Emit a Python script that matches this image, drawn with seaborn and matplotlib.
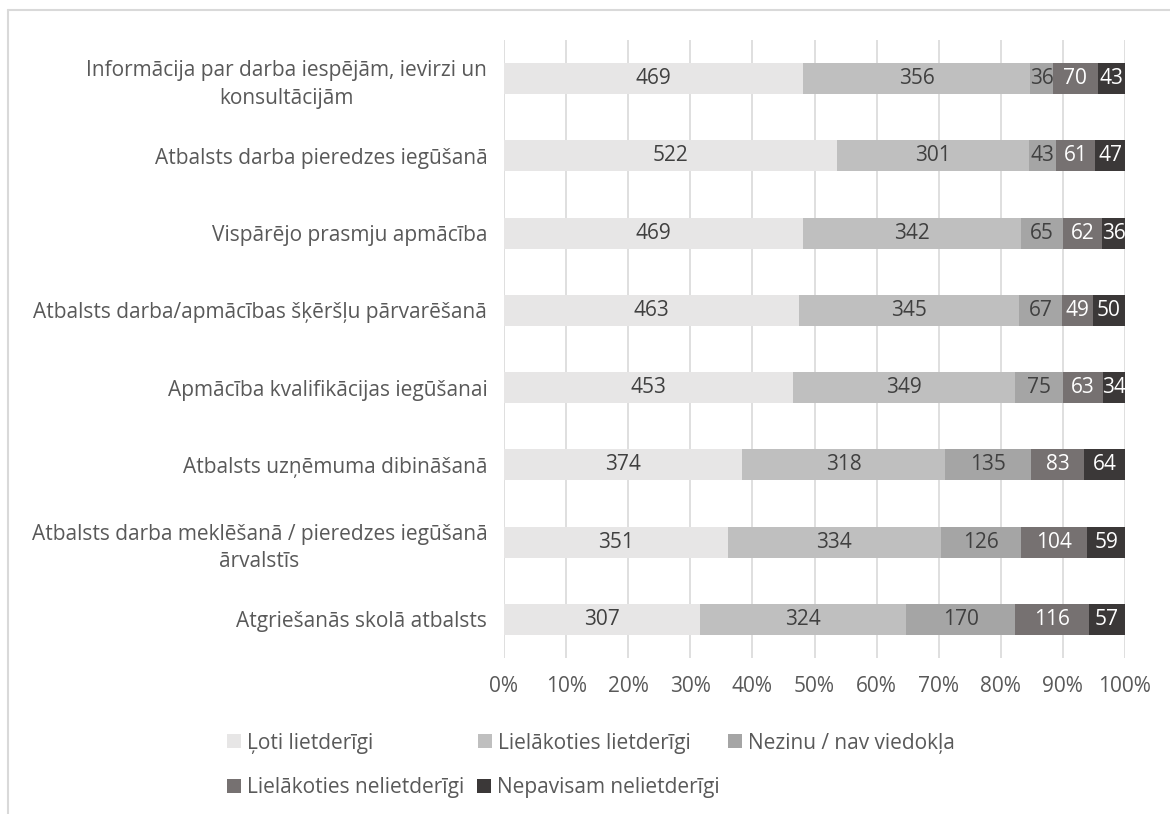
import matplotlib
matplotlib.use("Agg")
import matplotlib.pyplot as plt
from matplotlib.patches import Patch
from matplotlib.lines import Line2D
from matplotlib.ticker import PercentFormatter
import seaborn as sns
import pandas as pd
import numpy as np

categories = [
    "Informācija par darba iespējām, ievirzi un\nkonsultācijām",
    "Atbalsts darba pieredzes iegūšanā",
    "Vispārējo prasmju apmācība",
    "Atbalsts darba/apmācības šķēršļu pārvarēšanā",
    "Apmācība kvalifikācijas iegūšanai",
    "Atbalsts uzņēmuma dibināšanā",
    "Atbalsts darba meklēšanā / pieredzes iegūšanā\nārvalstīs",
    "Atgriešanās skolā atbalsts",
]
series_names = [
    "Ļoti lietderīgi",
    "Lielākoties lietderīgi",
    "Nezinu / nav viedokļa",
    "Lielākoties nelietderīgi",
    "Nepavisam nelietderīgi",
]
very_useful = [469, 522, 469, 463, 453, 374, 351, 307]
mostly_useful = [356, 301, 342, 345, 349, 318, 334, 324]
dont_know = [36, 43, 65, 67, 75, 135, 126, 170]
mostly_useless = [70, 61, 62, 49, 63, 83, 104, 116]
not_useful = [43, 47, 36, 50, 34, 64, 59, 57]

colors = ["#E7E6E6", "#BFBFBF", "#A5A5A5", "#767171", "#3B3838"]
label_colors = ["#404040", "#404040", "#404040", "white", "white"]

sns.set_theme(style="white")
plt.rcParams["font.family"] = ["Open Sans", "DejaVu Sans"]

FS = 15

values = np.array([very_useful, mostly_useful, dont_know, mostly_useless, not_useful], dtype=float)
totals = values.sum(axis=0)
shares = values / totals
cum = np.cumsum(shares, axis=0)

W, H = 1170, 814
fig = plt.figure(figsize=(W / 100, H / 100), dpi=100)
ax = fig.add_axes([504 / W, 1 - 658 / H, (1125 - 504) / W, (658 - 40) / H])

# stacked bars: draw cumulative totals from the longest to the shortest
for i in reversed(range(len(series_names))):
    df = pd.DataFrame({"category": categories, "cum": cum[i]})
    sns.barplot(data=df, x="cum", y="category", orient="h", color=colors[i],
                saturation=1, width=0.4, linewidth=0, errorbar=None, ax=ax,
                zorder=2)

for i in range(len(series_names)):
    start = cum[i] - shares[i]
    for j, cat in enumerate(categories):
        ax.text(start[j] + shares[i][j] / 2, j, f"{int(values[i][j])}",
                ha="center", va="center", color=label_colors[i], fontsize=FS,
                zorder=3)

ax.set_xlim(0, 1)
ax.set_ylim(len(categories) - 0.5, -0.5)
ax.set_xticks(np.linspace(0, 1, 11))
ax.xaxis.set_major_formatter(PercentFormatter(1.0, decimals=0))
ax.set_xlabel("")
ax.set_ylabel("")
ax.grid(axis="x", color="#D9D9D9", linewidth=1.2, zorder=0)
ax.set_axisbelow(True)
for s in ax.spines.values():
    s.set_visible(False)
ax.tick_params(axis="x", length=0, pad=13, labelsize=FS, labelcolor="#595959")
ax.tick_params(axis="y", length=0, pad=12, labelsize=FS, labelcolor="#595959")
for lbl in ax.get_yticklabels():
    lbl.set_multialignment("center")
    lbl.set_linespacing(1.4)

# legend: 3-column grid
legend_pos = [(227, 743), (478, 743), (728, 743), (227, 788), (477, 788)]
for i, name in enumerate(series_names):
    x, y = legend_pos[i]
    fig.legend(handles=[Patch(facecolor=colors[i], edgecolor="none", label=name)],
               loc="center left", bbox_to_anchor=(x / W, 1 - y / H),
               bbox_transform=fig.transFigure, frameon=False,
               borderpad=0, borderaxespad=0, handlelength=0.65,
               handleheight=0.65, handletextpad=0.3, fontsize=FS,
               labelcolor="#595959")

# chart border
fig.add_artist(Line2D([8 / W, 8 / W], [0, 1 - 10 / H], transform=fig.transFigure,
                      color="#D9D9D9", linewidth=1.5))
fig.add_artist(Line2D([8 / W, 1], [1 - 10 / H, 1 - 10 / H], transform=fig.transFigure,
                      color="#D9D9D9", linewidth=1.5))

fig.savefig("out.png", dpi=100, facecolor="white")
